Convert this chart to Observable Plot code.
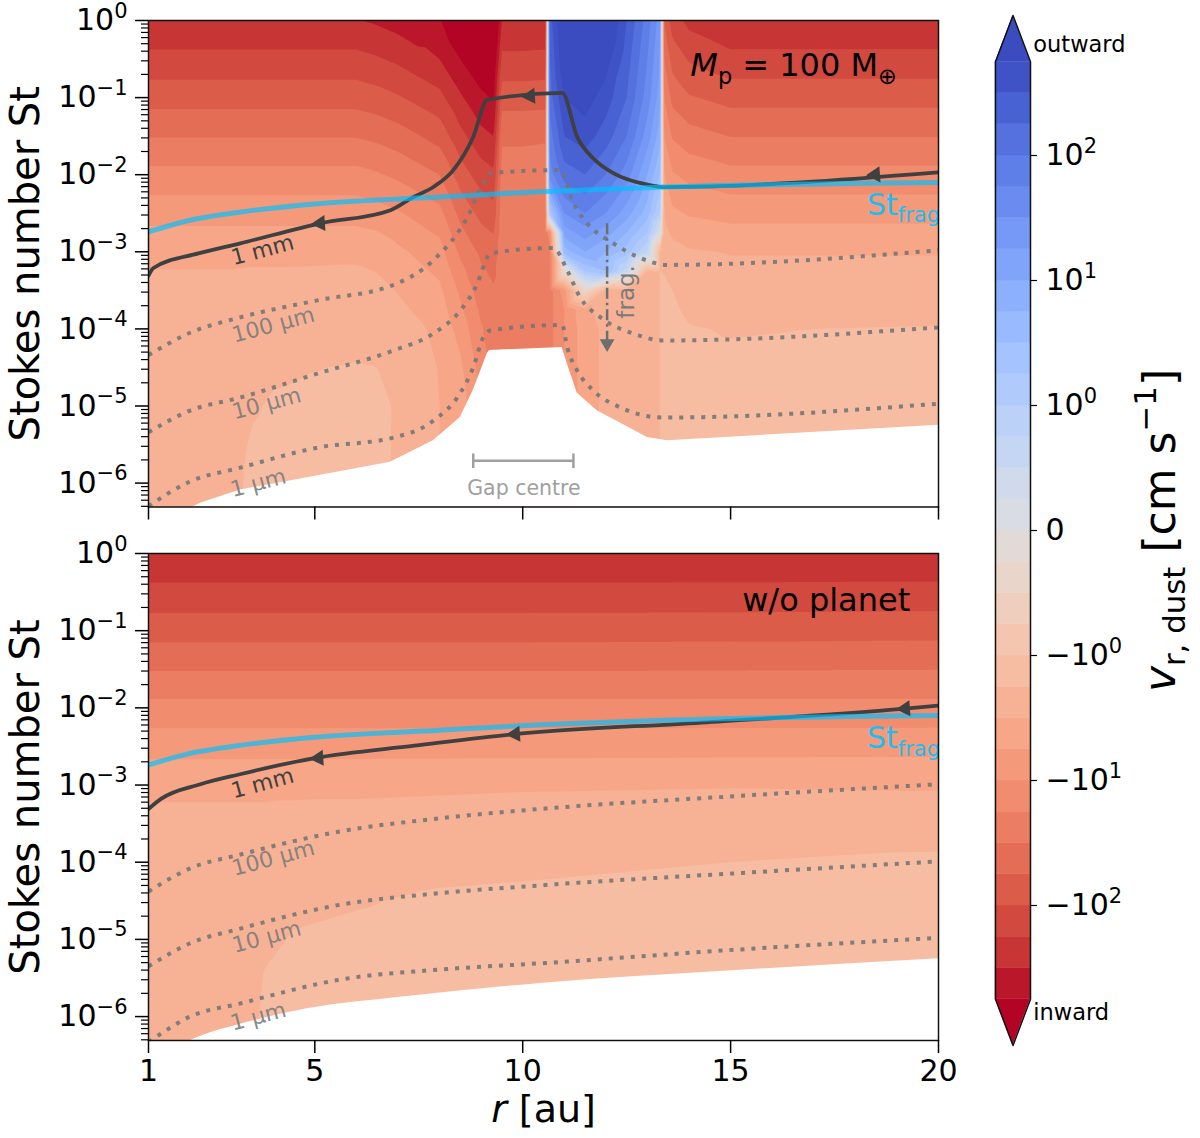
<!DOCTYPE html>
<html><head><meta charset="utf-8">
<script src="https://cdn.jsdelivr.net/npm/d3@7"></script>
<script src="https://cdn.jsdelivr.net/npm/@observablehq/plot@0.6"></script>
<style>
html,body{margin:0;padding:0;background:#fff;}
#fig{position:relative;width:1200px;height:1138px;overflow:hidden;font-family:"DejaVu Sans",sans-serif;background:#fff;}
</style></head><body><div id="fig"></div>
<script>
// ================= DATA =================
// grid rows: log10(St)
const logStRowsTop = [0, -0.5, -1, -1.5, -2, -2.5, -2.75, -3, -3.25, -3.5, -3.75, -4, -4.5, -5, -5.5, -6, -6.5];
const logStRowsBot = [0, -0.5, -1, -1.5, -2, -2.5, -3, -3.5, -4, -4.5, -5, -5.5, -6, -6.5];
// colour-level coordinate u of v_r,dust (4 levels per decade, 0 = zero velocity, <0 inward)
const rColsTop = [1, 3, 3.5, 4, 5, 6, 6.5, 7, 7.5, 8, 8.5, 9, 9.3, 9.5, 10, 10.55, 10.65, 11, 11.5, 12, 12.5, 13, 13.3, 13.4, 13.6, 14, 15, 17, 20];
const uTop = [
  [-13.95,-12.69,-11.41,-10.06,-8.68,-7.4,-6.8,-6.2,-5.98,-5.75,-5.68,-5.6,-5.5,-5.45,-5.4,-5.35,-5.3],
  [-13.95,-12.69,-11.41,-10.06,-8.68,-7.4,-6.8,-6.2,-5.98,-5.75,-5.65,-5.55,-5.45,-5.4,-5.3,-5.25,-5.2],
  [-13.95,-12.69,-11.41,-10.06,-8.68,-7.4,-6.8,-6.2,-5.95,-5.7,-5.6,-5.5,-5.35,-5.1,-4.9,-4.8,-4.8],
  [-13.95,-12.69,-11.41,-10.06,-8.68,-7.4,-6.8,-6.2,-5.95,-5.7,-5.58,-5.45,-5.15,-4.9,-4.75,-4.7,-4.7],
  [-13.95,-12.69,-11.41,-10.06,-8.68,-7.4,-6.8,-6.2,-5.93,-5.65,-5.53,-5.4,-5.02,-4.8,-4.7,-4.65,-4.65],
  [-13.95,-12.69,-11.41,-10.06,-8.68,-7.4,-6.8,-6.2,-5.9,-5.6,-5.45,-5.3,-4.95,-4.8,-4.75,-4.75,-4.75],
  [-14.15,-12.9,-11.6,-10.25,-8.9,-7.6,-6.95,-6.3,-6.03,-5.75,-5.58,-5.4,-5.0,-4.8,-4.8,-4.8,-4.8],
  [-14.45,-13.2,-11.9,-10.55,-9.2,-7.9,-7.35,-6.8,-6.43,-6.05,-5.8,-5.55,-5.2,-5.1,-5.1,-5.1,-5.1],
  [-14.85,-13.6,-12.3,-10.95,-9.6,-8.3,-7.75,-7.2,-6.8,-6.4,-6.13,-5.85,-5.6,-5.5,-5.45,-5.45,-5.45],
  [-14.9,-14.0,-12.7,-11.4,-10.0,-8.7,-8.15,-7.6,-7.2,-6.8,-6.53,-6.25,-6.05,-6.0,-6.0,-6.0,-6.0],
  [-16.2,-15.0,-13.85,-12.7,-11.5,-10.3,-9.75,-9.2,-8.7,-8.2,-7.8,-7.4,-6.8,-6.5,-6.4,-6.4,-6.4],
  [-16.8,-15.8,-14.8,-13.7,-12.5,-11.3,-10.75,-10.2,-9.85,-9.5,-9.2,-8.9,-8.4,-8.0,-7.8,-7.8,-7.8],
  [-17,-16,-15.1,-14,-12.8,-11.6,-11.05,-10.5,-10.2,-9.9,-9.7,-9.5,-9.3,-9.2,-9.2,-9.2,-9.2],
  [-13.95,-12.75,-11.45,-10.15,-9.6,-9.5,-9.5,-9.5,-9.5,-9.5,-9.5,-9.5,-9.5,-9.5,-9.5,-9.5,-9.5],
  [-13.95,-12.75,-11.45,-10.15,-9.6,-9.5,-9.5,-9.5,-9.5,-9.5,-9.5,-9.5,-9.5,-9.5,-9.5,-9.5,-9.5],
  [-13.9,-12.7,-11.4,-10.1,-9.55,-9.45,-9.45,-9.45,-9.45,-9.45,-9.45,-9.45,-9.45,-9.45,-9.45,-9.45,-9.45],
  [13.5,13,12.5,11.5,10.5,5,-8.5,-9.2,-9.3,-9.3,-9.3,-9.3,-9.3,-9.3,-9.3,-9.3,-9.3],
  [16.5,16,15,14,12.5,10,8.5,6.5,-1,-7.5,-8,-8,-8,-8,-8,-8,-8],
  [17,16.5,15.5,14.5,13,11,9.5,8,5,-1.5,-6.2,-6.4,-6.4,-6.4,-6.4,-6.4,-6.4],
  [16.5,15.5,14.5,13.5,12,10,8.5,7,6,-5.5,-5.7,-5.8,-5.8,-5.8,-5.8,-5.8,-5.8],
  [14,13.5,13,12,10.5,8.5,7,5.5,2.5,-5.4,-5.45,-5.5,-5.5,-5.5,-5.5,-5.5,-5.5],
  [11.5,11,10.5,9.5,8,6.5,5,3,-5.1,-5.1,-5.15,-5.2,-5.2,-5.2,-5.2,-5.2,-5.2],
  [9.5,9,8.5,7.5,6,4,1,-5,-5.0,-5.0,-5.0,-5.0,-5.0,-5.0,-5.0,-5.0,-5.0],
  [-11,-10,-9,-8,-7,-6,-5.65,-5.3,-5.05,-4.8,-4.75,-4.7,-4.7,-4.7,-4.7,-4.7,-4.7],
  [-12.5,-11.4,-10.3,-9.1,-7.9,-6.8,-6.2,-5.6,-5.3,-5.0,-4.88,-4.75,-4.7,-4.7,-4.7,-4.7,-4.7],
  [-13.3,-12.1,-10.9,-9.6,-8.3,-7.1,-6.5,-5.9,-5.6,-5.3,-5.13,-4.95,-4.8,-4.8,-4.8,-4.8,-4.8],
  [-13.95,-12.68,-11.35,-10.03,-8.68,-7.35,-6.7,-6.05,-5.8,-5.55,-5.3,-5.05,-4.85,-4.75,-4.75,-4.75,-4.75],
  [-13.95,-12.68,-11.35,-10.03,-8.68,-7.35,-6.7,-6.05,-5.8,-5.55,-5.28,-5.0,-4.75,-4.65,-4.65,-4.65,-4.65],
  [-13.95,-12.68,-11.35,-10.03,-8.68,-7.35,-6.7,-6.05,-5.8,-5.55,-5.25,-4.95,-4.7,-4.6,-4.6,-4.6,-4.6]
];
const rColsBot = [1, 3.5, 3.8, 4.5, 6, 8, 10, 15, 20];
const uBot = [
  [-13.95,-12.69,-11.41,-10.06,-8.68,-7.4,-6.2,-5.75,-5.6,-5.5,-5.45,-5.4,-5.35,-5.3],
  [-13.95,-12.69,-11.41,-10.06,-8.68,-7.4,-6.2,-5.75,-5.55,-5.45,-5.35,-5.25,-5.2,-5.15],
  [-13.95,-12.69,-11.41,-10.06,-8.68,-7.4,-6.2,-5.75,-5.5,-5.35,-5.15,-4.95,-4.85,-4.8],
  [-13.95,-12.69,-11.41,-10.06,-8.68,-7.4,-6.2,-5.7,-5.4,-5.15,-4.95,-4.85,-4.8,-4.8],
  [-13.95,-12.69,-11.41,-10.06,-8.68,-7.4,-6.2,-5.65,-5.3,-5.05,-4.85,-4.75,-4.7,-4.7],
  [-13.95,-12.69,-11.41,-10.06,-8.68,-7.4,-6.15,-5.6,-5.2,-4.9,-4.75,-4.7,-4.7,-4.7],
  [-13.95,-12.69,-11.41,-10.06,-8.68,-7.4,-6.1,-5.55,-5.15,-4.85,-4.75,-4.7,-4.7,-4.7],
  [-13.95,-12.68,-11.38,-10.04,-8.68,-7.38,-6.05,-5.45,-5.0,-4.75,-4.7,-4.65,-4.65,-4.65],
  [-13.95,-12.65,-11.33,-10.02,-8.68,-7.35,-6.1,-5.4,-4.85,-4.65,-4.6,-4.6,-4.6,-4.6]
];
// lower edge of the data (white below)
const edgeTopR   = [1, 2.25, 3.21, 4.82, 6.82, 7.85, 8.5, 8.81, 9.15, 9.2, 10.95, 11.07, 11.31, 11.79, 13.0, 13.48, 20];
const edgeTopLog = [-6.6, -6.26, -6.09, -5.93, -5.73, -5.45, -5.15, -4.80, -4.32, -4.28, -4.24, -4.45, -4.83, -5.06, -5.41, -5.45, -5.25];
const edgeBotR   = [1, 2.18, 3.21, 4.82, 7.23, 10.42, 15.23, 20];
const edgeBotLog = [-6.6, -6.27, -6.10, -5.90, -5.74, -5.57, -5.40, -5.25];
// fragmentation limit St_frag (same in both panels)
const fragR   = [1, 2, 3, 5, 8, 10.4, 13.4, 20];
const fragLog = [-2.74, -2.59, -2.5, -2.38, -2.29, -2.22, -2.16, -2.10];
// 1 mm grain trajectory
const mmTopR   = [1, 1.12, 2.2, 3.21, 5.14, 6.82, 7.37, 7.85, 8.33, 8.81, 9.15, 10.95, 11.31, 11.7, 12.18, 13.0, 13.36, 20];
const mmTopLog = [-3.31, -3.21, -3.02, -2.89, -2.63, -2.46, -2.29, -2.16, -1.94, -1.51, -1.03, -0.94, -1.51, -1.79, -1.98, -2.13, -2.16, -1.97];
const mmBotR   = [1, 1.3, 2.25, 3.2, 5.0, 7.4, 9.8, 14.3, 19.2, 20];
const mmBotLog = [-3.31, -3.18, -2.99, -2.86, -2.65, -2.49, -2.34, -2.19, -2.01, -1.97];
const arrowTopR = [5.13, 10.18, 18.48], arrowTopLog = [-2.63, -0.98, -2.0];
const arrowBotR = [5.09, 9.82, 19.2],  arrowBotLog = [-2.65, -2.34, -2.01];
// constant-size curves (dotted)
const um100TopR = [1, 2, 3.21, 5.06, 6.89, 7.85, 8.67, 9.05, 9.22, 10.9, 11.22, 11.55, 12.18, 12.83, 13.48, 20];
const um100TopLog = [-4.34, -4.05, -3.85, -3.63, -3.43, -3.11, -2.55, -2.11, -1.98, -1.94, -2.37, -2.63, -2.89, -3.08, -3.17, -2.98];
const um10TopR = [1, 2, 3.21, 5.06, 6.89, 7.85, 8.5, 8.91, 9.15, 9.22, 10.74, 11.07, 11.38, 11.87, 12.66, 13.38, 20];
const um10TopLog = [-5.34, -5.06, -4.89, -4.58, -4.28, -4.06, -3.76, -3.41, -3.07, -3.02, -2.95, -3.24, -3.59, -3.85, -4.06, -4.15, -3.98];
const um1TopR = [1, 1.22, 2, 3.21, 5.06, 6.89, 7.85, 8.5, 8.81, 9.05, 9.22, 10.95, 11.07, 11.31, 11.7, 12.35, 13.38, 20];
const um1TopLog = [-6.30, -6.22, -5.98, -5.80, -5.54, -5.41, -5.19, -4.83, -4.50, -4.11, -4.02, -3.95, -4.24, -4.54, -4.80, -5.02, -5.15, -4.97];
const um100BotR = [1, 2, 3.21, 5.62, 8.02, 10.42, 15.23, 20];
const um100BotLog = [-4.38, -4.08, -3.90, -3.60, -3.43, -3.31, -3.14, -2.99];
const um10BotR = [1, 2, 3.21, 5.62, 8.02, 10.42, 15.23, 20];
const um10BotLog = [-5.35, -5.05, -4.86, -4.55, -4.40, -4.30, -4.14, -3.99];
const um1BotR = [1, 1.22, 2, 3.21, 5.62, 8.02, 10.42, 15.23, 20];
const um1BotLog = [-6.33, -6.25, -6.0, -5.83, -5.52, -5.39, -5.31, -5.13, -4.98];
// labels
const sizeLabelText = ["1 mm", "100 μm", "10 μm", "1 μm"];
const sizeLabelR = [3.74, 4.0, 3.84, 3.64];
const sizeLabelLog = [-2.98, -3.95, -4.97, -6.0];
const gapR = [8.81, 11.22], gapLog = -5.71, gapTextR = 10.03, gapTextLog = -6.07;
const fragArrowR = 12.03, fragArrowFrom = -2.63, fragArrowTo = -4.30;
const fragTextR = 12.51, fragTextLog = -3.52;
const stFragLabelR = 18.28, stFragLabelLog = -2.40;
const titleTop = "*M*_{p} = 100 M_{⊕}", titleTopR = 14.03, titleTopLog = -0.59;
const titleBot = "w/o planet", titleBotR = 19.32, titleBotLog = -0.61;
// ticks
const yMajor = [1, 1e-1, 1e-2, 1e-3, 1e-4, 1e-5, 1e-6];
const yTickLabels = ["10^{0}", "10^{−1}", "10^{−2}", "10^{−3}", "10^{−4}", "10^{−5}", "10^{−6}"];
const xTicks = [1, 5, 10, 15, 20];
const cbTickU = [12, 8, 4, 0, -4, -8, -12];
const cbTickLabels = ["10^{2}", "10^{1}", "10^{0}", "0", "−10^{0}", "−10^{1}", "−10^{2}"];

// ================= STYLE =================
const CW = [[59,76,192],[68,90,204],[77,104,215],[87,117,225],[98,130,234],[108,142,241],[119,154,247],[130,165,251],[141,176,254],[152,185,255],[163,194,255],[174,201,253],[184,208,249],[194,213,244],[204,217,238],[213,219,230],[221,221,221],[229,216,209],[236,211,197],[241,204,185],[245,196,173],[247,187,160],[247,177,148],[247,166,135],[244,154,123],[241,141,111],[236,127,99],[229,112,88],[222,96,77],[213,80,66],[203,62,56],[192,40,47],[180,4,38]];
function coolwarm(t) {
  const x = Math.max(0, Math.min(1, t)) * 32, i = Math.min(31, Math.floor(x)), f = x - i;
  const a = CW[i], b = CW[i + 1];
  return `rgb(${a.map((v, k) => Math.round(v + (b[k] - v) * f)).join(",")})`;
}
const bandColors = [coolwarm(1), ...d3.range(30).map(i => coolwarm(1 - (i + 0.5) / 30)), coolwarm(0)];
const THRESH = [-60, ...d3.range(-15, 16)];
const ST_MIN = 10 ** -6.31;
const yMinor = [];
for (let k = -7; k < 0; k++) for (let m = 2; m <= 9; m++) { const v = m * 10 ** k; if (v >= ST_MIN && v < 1) yMinor.push(v); }

function richify(root) {
  root.querySelectorAll("text").forEach(t => {
    const s = t.textContent;
    if (!/[\^_]\{|\*/.test(s)) return;
    const fs = parseFloat(getComputedStyle(t).fontSize) || 16;
    t.textContent = "";
    const re = /\^\{([^}]*)\}|_\{([^}]*)\}|\*([^*]*)\*|([^\^_*]+)/g;
    let m, off = 0;
    while ((m = re.exec(s))) {
      const ts = document.createElementNS("http://www.w3.org/2000/svg", "tspan");
      let target = 0, txt, small = false, ital = false;
      if (m[1] != null) { txt = m[1]; target = -0.42 * fs; small = true; }
      else if (m[2] != null) { txt = m[2]; target = 0.24 * fs; small = true; }
      else if (m[3] != null) { txt = m[3]; ital = true; }
      else txt = m[4];
      ts.textContent = txt;
      if (target !== off) ts.setAttribute("dy", (target - off).toFixed(2));
      off = target;
      if (small) ts.setAttribute("font-size", (0.7 * fs).toFixed(1));
      if (ital) ts.setAttribute("font-style", "italic");
      t.appendChild(ts);
    }
  });
}

const P = (R, L) => R.map((r, i) => ({r, St: 10 ** L[i]}));

function makePanel(c) {
  const grid = [];
  c.cols.forEach((r, j) => c.rows.forEach((ls, k) => grid.push({r, St: 10 ** ls, u: c.vals[j][k]})));
  const labels = sizeLabelText.map((t, i) => ({t, r: sizeLabelR[i], St: 10 ** sizeLabelLog[i]}));
  const marks = [
    Plot.contour(grid, {x: "r", y: "St", fill: "u", thresholds: THRESH, interpolate: "barycentric", pixelSize: 1, stroke: "none"}),
    Plot.areaY(P(c.edgeR, c.edgeLog), {x: "r", y1: ST_MIN / 4, y2: "St", fill: "white", curve: c.edgeCurve, clip: true})
  ];
  for (const [R, L] of c.dotted) marks.push(Plot.line(P(R, L), {x: "r", y: "St", stroke: "#767676", strokeOpacity: 0.9, strokeWidth: 4, strokeDasharray: "4,7", strokeLinecap: "butt", curve: "monotone-x", clip: true}));
  marks.push(
    Plot.text(labels.slice(1), {x: "r", y: "St", text: "t", rotate: -15, fontSize: 22, fill: "#7a7a7a", fillOpacity: 0.9}),
    Plot.text(labels.slice(0, 1), {x: "r", y: "St", text: "t", rotate: -15, fontSize: 22, fill: "#404040"}),
    Plot.line(P(c.mmR, c.mmLog), {x: "r", y: "St", stroke: "#404040", strokeWidth: 3.8, curve: "monotone-x", clip: true}),
    Plot.line(P(fragR, fragLog), {x: "r", y: "St", stroke: "#00bfff", strokeOpacity: 0.68, strokeWidth: 5, curve: "monotone-x", clip: true}),
    Plot.dot(P(c.arrR, c.arrLog), {x: "r", y: "St", symbol: "triangle", r: 6, fill: "#404040", stroke: "none", rotate: 266}),
    Plot.text(["St_{frag}"], {x: stFragLabelR, y: 10 ** stFragLabelLog, text: d => d, textAnchor: "start", fontSize: 30, fill: "#1dbdf0"}),
    Plot.text([c.title], {x: c.titleR, y: 10 ** c.titleLog, text: d => d, textAnchor: c.titleAnchor, fontSize: 32, fill: "#000"})
  );
  if (c.extra) marks.push(...c.extra);
  marks.push(
    Plot.frame({stroke: "#111", strokeWidth: 1.5}),
    Plot.axisY(yMajor, {anchor: "left", tickSize: 13, tickPadding: 8, tickFormat: d => yTickLabels[yMajor.indexOf(d)], fontSize: 30, strokeWidth: 1.5, label: null}),
    Plot.axisY(yMinor, {anchor: "left", tickSize: 7, tickFormat: () => "", strokeWidth: 1.2, label: null}),
    Plot.axisX(xTicks, {anchor: "bottom", tickSize: 13, tickPadding: 6, fontSize: 30, strokeWidth: 1.5, label: null, tickFormat: c.xLabels ? d => String(d) : () => ""}),
    Plot.text(["Stokes number St"], {frameAnchor: "left", textAnchor: "middle", lineAnchor: "middle", dx: -122, rotate: -90, fontSize: 40, text: d => d, fill: "#000"})
  );
  if (c.xLabels) marks.push(Plot.text(["*r* [au]"], {frameAnchor: "bottom", textAnchor: "middle", lineAnchor: "middle", dy: 69, fontSize: 38, text: d => d, fill: "#000"}));
  return Plot.plot({
    width: 960, height: c.height, marginLeft: 148, marginRight: 22, marginTop: c.mt, marginBottom: c.mb,
    x: {domain: [1, 20]},
    y: {type: "log", domain: [ST_MIN, 1]},
    color: {type: "threshold", domain: d3.range(-15, 16), range: bandColors},
    style: {fontFamily: "DejaVu Sans", fontSize: "30px", background: "transparent", color: "#000", overflow: "visible"},
    marks
  });
}

const gapExtra = [
  Plot.link([0], {x1: gapR[0], x2: gapR[1], y1: 10 ** gapLog, y2: 10 ** gapLog, stroke: "#a0a0a0", strokeWidth: 2.5}),
  Plot.link(gapR, {x1: d => d, x2: d => d, y1: 10 ** (gapLog - 0.095), y2: 10 ** (gapLog + 0.095), stroke: "#a0a0a0", strokeWidth: 2.5}),
  Plot.text(["Gap centre"], {x: gapTextR, y: 10 ** gapTextLog, text: d => d, fontSize: 20.5, fill: "#a0a0a0"}),
  Plot.link([0], {x1: fragArrowR, x2: fragArrowR, y1: 10 ** fragArrowFrom, y2: 10 ** (fragArrowTo + 0.11), stroke: "#6e6e6e", strokeWidth: 2.5, strokeDasharray: "11,4,2.5,4"}),
  Plot.dot([0], {x: fragArrowR, y: 10 ** (fragArrowTo + 0.11), symbol: "triangle", r: 5.5, rotate: 180, fill: "#6e6e6e", stroke: "none"}),
  Plot.text(["frag."], {x: fragTextR, y: 10 ** fragTextLog, text: d => d, rotate: -90, fontSize: 23, fill: "#7a7a7a"})
];

const topSvg = makePanel({
  rows: logStRowsTop, cols: rColsTop, vals: uTop, edgeR: edgeTopR, edgeLog: edgeTopLog, edgeCurve: "linear",
  dotted: [[um100TopR, um100TopLog], [um10TopR, um10TopLog], [um1TopR, um1TopLog]],
  mmR: mmTopR, mmLog: mmTopLog, arrR: arrowTopR, arrLog: arrowTopLog,
  title: titleTop, titleR: titleTopR, titleLog: titleTopLog, titleAnchor: "start",
  extra: gapExtra, xLabels: false, height: 530, mt: 20, mb: 23.5
});
const botSvg = makePanel({
  rows: logStRowsBot, cols: rColsBot, vals: uBot, edgeR: edgeBotR, edgeLog: edgeBotLog, edgeCurve: "monotone-x",
  dotted: [[um100BotR, um100BotLog], [um10BotR, um10BotLog], [um1BotR, um1BotLog]],
  mmR: mmBotR, mmLog: mmBotLog, arrR: arrowBotR, arrLog: arrowBotLog,
  title: titleBot, titleR: titleBotR, titleLog: titleBotLog, titleAnchor: "end",
  extra: null, xLabels: true, height: 608, mt: 23, mb: 98
});

// colour bar
const cbBands = d3.range(30).map(i => ({lo: i - 15, hi: i - 14, c: bandColors[i + 1]}));
const topTri = [{x: 0, y: 15}, {x: 0.5, y: 16.48}, {x: 1, y: 15}];
const botTri = [{x: 0, y: -15}, {x: 0.5, y: -16.48}, {x: 1, y: -15}];
const outline = [{x: 0, y: -15}, {x: 0, y: 15}, {x: 0.5, y: 16.48}, {x: 1, y: 15}, {x: 1, y: -15}, {x: 0.5, y: -16.48}, {x: 0, y: -15}];
const cbSvg = Plot.plot({
  width: 240, height: 1138, marginLeft: 35, marginRight: 170, marginTop: 15, marginBottom: 93,
  x: {domain: [0, 1], axis: null},
  y: {domain: [-16.48, 16.48], axis: null},
  color: {type: "identity"},
  style: {fontFamily: "DejaVu Sans", fontSize: "30px", background: "transparent", color: "#000", overflow: "visible"},
  marks: [
    Plot.rect(cbBands, {x1: 0, x2: 1, y1: "lo", y2: "hi", fill: "c", stroke: "c", strokeWidth: 0.5}),
    Plot.areaY(topTri, {x: "x", y1: 15, y2: "y", fill: bandColors[31]}),
    Plot.areaY(botTri, {x: "x", y1: -15, y2: "y", fill: bandColors[0]}),
    Plot.line(outline, {x: "x", y: "y", stroke: "#111", strokeWidth: 1.5}),
    Plot.axisY(cbTickU, {anchor: "right", tickSize: 6, tickPadding: 9, tickFormat: d => cbTickLabels[cbTickU.indexOf(d)], fontSize: 30, strokeWidth: 1.2, label: null}),
    Plot.text(["outward"], {x: 1.08, y: 15.55, text: d => d, textAnchor: "start", fontSize: 22.5, fill: "#000"}),
    Plot.text(["inward"], {x: 1.08, y: -15.42, text: d => d, textAnchor: "start", fontSize: 22.5, fill: "#000"}),
    Plot.text(["*v*_{r, dust} [cm s^{−1}]"], {x: 4.72, y: 0, text: d => d, rotate: -90, fontSize: 44, fill: "#000"})
  ]
});

const fig = document.getElementById("fig");
function place(svg, left, top) {
  svg.style.position = "absolute"; svg.style.left = left + "px"; svg.style.top = top + "px";
  svg.style.maxWidth = "none";
  fig.appendChild(svg); richify(svg);
}
place(topSvg, 0, 0);
place(botSvg, 0, 530);
place(cbSvg, 960, 0);
</script></body></html>
